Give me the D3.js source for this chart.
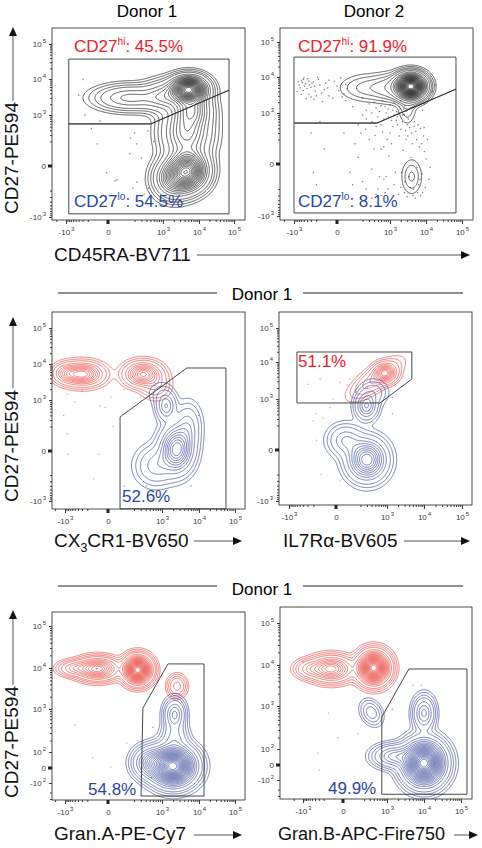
<!DOCTYPE html>
<html><head><meta charset="utf-8">
<script src="https://cdn.jsdelivr.net/npm/d3@7"></script>
<style>
body{margin:0;background:#fff}
svg{display:block}
text{font-family:"Liberation Sans",Arial,Helvetica,sans-serif}
</style>
</head><body>
<svg id="chart" width="482" height="848"></svg>
<script>
// ================= DATA =================
// tick values (fluorescence units, biexponential display)
const xTicks = [-1000, 0, 1000, 10000, 100000];
const yTicksTop = [-1000, 0, 1000, 10000, 100000];
const yTicksLow = [-100, 0, 100, 1000, 10000, 100000];

// populations: centre (x,y) in fluorescence units, spread in decades, relative weight, group
const popsA = [
  {x:5200, y:5200, sx:0.28, sy:0.20, w:1.0},
  {x:5000, y:-30,  sx:0.30, sy:0.30, w:0.75},
  {x:2000, y:-80,  sx:0.30, sy:0.30, w:0.35},
  {x:150,  y:3000, sx:0.55, sy:0.20, w:0.17},
  {x:1200, y:3300, sx:0.35, sy:0.25, w:0.18},
  {x:4500, y:350,  sx:0.38, sy:0.45, w:0.32},
  {x:6500, y:1500, sx:0.30, sy:0.30, w:0.3}
];
const popsB = [
  {x:3800, y:5500, sx:0.22, sy:0.19, w:1.0},
  {x:1200, y:5000, sx:0.30, sy:0.22, w:0.05},
  {x:300,  y:5000, sx:0.45, sy:0.22, w:0.03},
  {x:3000, y:1500, sx:0.15, sy:0.30, w:0.02},
  {x:4000, y:-80,  sx:0.17, sy:0.30, w:0.022},
  {x:4000, y:-80,  sx:0.05, sy:0.08, w:0.008}
];
const popsC = [
  {x:-280, y:5200, sx:0.30, sy:0.17, w:1.0,  g:'r'},
  {x:340,  y:5200, sx:0.27, sy:0.18, w:0.95, g:'r'},
  {x:700,  y:2500, sx:0.22, sy:0.20, w:0.2,  g:'r'},
  {x:-900, y:5500, sx:0.20, sy:0.15, w:0.4,  g:'r'},
  {x:2500, y:10,   sx:0.25, sy:0.35, w:1.0,  g:'b'},
  {x:1300, y:700,  sx:0.15, sy:0.22, w:0.4,  g:'b'},
  {x:700,  y:-100, sx:0.30, sy:0.30, w:0.25, g:'b'},
  {x:5000, y:200,  sx:0.20, sy:0.35, w:0.25, g:'b'},
  {x:900,  y:1500, sx:0.20, sy:0.20, w:0.06, g:'b'}
];
const popsD = [
  {x:900,  y:5000, sx:0.16, sy:0.15, w:1.0,  g:'r'},
  {x:500,  y:3500, sx:0.40, sy:0.17, w:0.4,  g:'r', rot:-35},
  {x:300,  y:-60,  sx:0.28, sy:0.33, w:1.0,  g:'b'},
  {x:290,  y:660,  sx:0.16, sy:0.22, w:0.5,  g:'b'},
  {x:60,   y:60,   sx:0.25, sy:0.25, w:0.3,  g:'b'},
  {x:450,  y:1500, sx:0.20, sy:0.20, w:0.15, g:'b'}
];
const popsE = [
  {x:250,  y:9000, sx:0.20, sy:0.17, w:1.0,  g:'r'},
  {x:-80,  y:9500, sx:0.30, sy:0.14, w:0.45, g:'r'},
  {x:-500, y:9800, sx:0.25, sy:0.10, w:0.15, g:'r'},
  {x:2550, y:3600, sx:0.14, sy:0.14, w:0.12, g:'r'},
  {x:2000, y:10,   sx:0.33, sy:0.25, w:1.0,  g:'b'},
  {x:2200, y:760,  sx:0.16, sy:0.20, w:0.2,  g:'b'},
  {x:500,  y:30,   sx:0.25, sy:0.20, w:0.25, g:'b'},
  {x:2200, y:250,  sx:0.20, sy:0.20, w:0.1,  g:'b'}
];
const popsF = [
  {x:400,   y:8500, sx:0.22, sy:0.20, w:1.0,  g:'r'},
  {x:-100,  y:8000, sx:0.30, sy:0.16, w:0.4,  g:'r'},
  {x:-600,  y:8000, sx:0.22, sy:0.12, w:0.12, g:'r'},
  {x:10000, y:10,   sx:0.30, sy:0.28, w:1.0,  g:'b'},
  {x:10000, y:700,  sx:0.16, sy:0.22, w:0.2,  g:'b'},
  {x:340,   y:720,  sx:0.15, sy:0.18, w:0.07, g:'b', rot:-30},
  {x:1500,  y:50,   sx:0.30, sy:0.15, w:0.2,  g:'b'}
];

// single events shown outside the contours
const dotsA = [[-290,9700],[-400,3600],[-85,170],[-10,-40],[40,-100],[155,250],[200,340],[230,170],[150,80],[430,390],[180,-170],[50,-90],[300,50],[-250,1000],[450,-170],[-60,700],[230,-110],[600,200],[-150,450],[350,-250]];
const dotsB = [
 [-600,8000],[-450,6500],[-520,4200],[-380,9000],[-300,5200],[-250,7400],[-200,3000],[-150,6000],[-100,4500],[-60,8200],[-30,2600],[0,5600],[40,3400],[80,7000],[-350,3300],[-480,5600],[-220,4100],[-120,2100],[20,9500],[-700,6000],[-560,7100],[-420,2500],[-280,6800],[-170,8600],[60,4800],[-800,4000],
 [-650,5000],[-500,9500],[-350,7800],[-230,5600],[-130,3600],[-60,3000],[10,4200],[-400,4800],[-300,2800],[-750,7500],[-600,3300],[-180,9800],[-90,6800],[-20,7600],[50,6200],[-520,8600],[-330,6100],[-240,2400],[-70,5000],[30,2800],
 [100,1500],[250,1200],[400,2000],[600,1600],[900,1300],[1300,1900],[1800,1500],[200,900],[500,800],[800,1000],[1500,1100],[2400,1300],[50,2200],[350,600],[700,700],[1100,650],[150,500],[300,1800],[2000,2200],[1600,800],
 [200,2600],[450,1400],[650,2200],[1000,1700],[1200,1200],[1700,1000],[2200,900],[2600,1600],[350,1000],[550,1100],[750,1500],[2800,1100],[1900,1300],[250,700],[450,450],[1300,900],
 [900,800],[1500,650],[2500,900],[3200,700],[4800,600],[6000,500],[1200,450],[2000,380],[3500,420],[5200,330],[7000,400],[8500,250],[1800,250],[2800,200],[4200,150],[6500,120],[9000,80],[1100,150],[2300,90],[3800,40],[5600,-20],[7800,-60],[10000,30],[1400,-50],[2600,-120],[4500,-200],[6200,-150],[8000,-250],[12000,-100],[900,-200],[1700,-280],[3000,-320],[5000,-350],[7000,-300],[2200,600],[3000,500],[4000,300],[1000,300],[600,500],[700,120],[800,-80],[11000,200],[9500,-180],[13000,-20],[2000,-180],
 [1600,500],[2700,350],[3300,-80],[4300,-300],[5500,200],[6800,-100],[8800,420],[2100,-50],[3600,-180],[7500,150],[950,50],[1300,-150],[2500,-250],[5800,-250],[4700,450],[3100,250],
 [40,300],[120,150],[240,380],[420,260],[600,100],[850,200],[80,-50],[200,-120],[350,-30],[500,-200],[700,-100],[150,40],[300,200],[450,-280],[650,320],[-100,100],[-200,-150],[30,-250],[-300,300],[-150,600],
 [250,-200],[400,100],[550,-80],[750,-250],[100,-150],[-50,-300],[180,300],[600,-300],[350,-350],[-250,-50],
 [15000,4000],[12000,2500],[9000,1800],[18000,6000],[8000,1200]
];
const dotsC = [[-850,1500,'r'],[-60,700,'r'],[-20,650,'r'],[-850,120,'r'],[-800,-20,'r'],[-70,-20,'r'],[-120,-250,'r'],[30,200,'r'],[-1100,400,'r'],[290,1200,'r'],[15,1200,'r'],[-300,1800,'r'],[-500,900,'r'],[100,2000,'r'],[10000,400,'b'],[6000,-400,'b'],[420,-400,'b'],[100,-400,'b']];
const dotsD = [[-120,3500,'r'],[25,2800,'r'],[70,2400,'r'],[90,3500,'r'],[-40,600,'r'],[-170,420,'r'],[-160,60,'r'],[-110,-200,'r'],[25,-300,'r'],[-200,270,'r'],[-90,320,'r'],[-20,1000,'r'],[150,1600,'r'],[300,2000,'r'],[-300,2500,'r'],[1400,420,'b'],[1400,1100,'b']];
const dotsE = [[-500,450,'r'],[-130,60,'r'],[15,5,'r'],[125,175,'r'],[250,200,'r'],[550,-60,'b'],[600,400,'b']];
const dotsF = [[-1000,12000,'r'],[-320,70,'r'],[-40,200,'r'],[-290,-30,'r'],[5000,3200,'r'],[8500,3200,'r'],[-130,700,'r'],[120,250,'r'],[1400,850,'b']];

// gates (fluorescence units)
const gateA = [[[-820,37000],[72000,37000],[72000,4900],[510,590],[-820,590]],[[-820,590],[510,590],[72000,4900],[72000,-830],[-820,-830]]];
const gateB = [[[-1000,37000],[68000,37000],[68000,4600],[475,550],[-1000,550]],[[-1000,550],[475,550],[68000,4600],[68000,-840],[-1000,-840]]];
const gateC = [[[72,363],[72,-1600],[56000,-1600],[56000,7750],[4700,7750]]];
const gateD = [[[-600,19700],[4700,19700],[4700,3470],[660,790],[-600,790]]];
const gateE = [[[340,1050],[305,-250],[13800,-250],[13800,12500],[1450,12500]]];
const gateF = [[[700,580],[700,-270],[145000,-270],[145000,8000],[3900,8000]]];

// texts
const donorLabels = ["Donor 1", "Donor 2"];
const xTitles = ["CD45RA-BV711", "CX3CR1-BV650", "IL7R\u03b1-BV605", "Gran.A-PE-Cy7", "Gran.B-APC-Fire750"];
const yTitle = "CD27-PE594";
const percentLabels = [
  {panel:0, parts:[["CD27"],["hi","sup"],[": 45.5%"]], c:'r', pos:'top'},
  {panel:0, parts:[["CD27"],["lo","sup"],[": 54.5%"]], c:'b', pos:'bot'},
  {panel:1, parts:[["CD27"],["hi","sup"],[": 91.9%"]], c:'r', pos:'top'},
  {panel:1, parts:[["CD27"],["lo","sup"],[": 8.1%"]], c:'b', pos:'bot'},
  {panel:2, parts:[["52.6%"]], c:'b'},
  {panel:3, parts:[["51.1%"]], c:'r'},
  {panel:4, parts:[["54.8%"]], c:'b'},
  {panel:5, parts:[["49.9%"]], c:'b'}
];

// ================= LAYOUT / STYLE =================
const COL = {r:'#e8483f', b:'#3a4b98', k:'#1a1a1a', textR:'#e8202a', textB:'#2a47a0',
             dotK:'#7d7d7d', dotR:'#eea3a3', dotB:'#8d99cf', axis:'#3a3a3a'};
const dense = [0.008, 0.016, 0.03].concat(d3.range(0.05, 0.96, 0.045));
const medium = [0.02, 0.045].concat(d3.range(0.09, 0.96, 0.1));
const levB = [0.006, 0.012, 0.022, 0.035, 0.06].concat(d3.range(0.1, 0.97, 0.04));

const panels = [
  {pops:popsA, dots:dotsA, gates:gateA, mono:true, left:52, top:28, w:193, h:192, xp:[66,108,163,199,234], yv:yTicksTop, yp:[217,166,115,79,44], lev:dense, lab:{top:[74,52], bot:[74,207]}},
  {pops:popsB, dots:dotsB, gates:gateB, mono:true, left:280, top:28, w:193, h:192, xp:[294,337,390,426,462], yv:yTicksTop, yp:[216,164,113,77,42], lev:levB, lab:{top:[298,52], bot:[298,207]}},
  {pops:popsC, dots:dotsC, gates:gateC, left:52, top:312, w:193, h:197, xp:[65,108,162,199,235], yv:yTicksTop, yp:[501,451,400,364,328], lev:medium, lab:[122,502]},
  {pops:popsD, dots:dotsD, gates:gateD, left:279, top:312, w:193, h:193, xp:[289,336,387,424,462], yv:yTicksTop, yp:[501,450,399,362,328], lev:medium, lab:[298,367]},
  {pops:popsE, dots:dotsE, gates:gateE, left:52, top:612, w:193, h:188, xp:[65,108,162,199,235], yv:yTicksLow, yp:[783,768,752,709,668,626], lev:dense, lab:[88,795]},
  {pops:popsF, dots:dotsF, gates:gateF, left:280, top:607, w:192, h:192, xp:[303,343,387,424,461], yv:yTicksLow, yp:[780,765,749,706,665,623], lev:dense, lab:[328,794]}
];

// ================= RENDER =================
const svg = d3.select('#chart');
const T = v => Math.asinh(v / 100);

function makeScale(vals, pix, extent) {
  const idx = d3.range(vals.length).sort((a, b) => vals[a] - vals[b]);
  const lin = d3.scaleLinear().domain(idx.map(i => T(vals[i]))).range(idx.map(i => pix[i]));
  const s = v => lin(T(v));
  s.copy = () => s;
  s.range = () => extent;
  s.domain = () => [vals[idx[0]], vals[idx[idx.length - 1]]];
  s.ppd = Math.abs(s(1e5) - s(1e4));
  return s;
}

function minorValues() {
  const out = [];
  for (const k of [2, 3, 4]) for (let m = 2; m <= 9; m++) out.push(m * Math.pow(10, k));
  for (let m = 2; m <= 9; m++) out.push(-m * 100);
  out.push(-2000);
  return out;
}

function labelAxis(sel) {
  sel.selectAll('.tick text').each(function(d) {
    const t = d3.select(this);
    if (d !== 0) {
      t.append('tspan').attr('dy', -4).attr('font-size', 6).attr('dx', 1)
       .text(Math.round(Math.log10(Math.abs(d))));
    }
  });
}

const defs = svg.append('defs');

panels.forEach((p, pi) => {
  const xs = makeScale(xTicks, p.xp, [p.left, p.left + p.w]);
  const ys = makeScale(p.yv, p.yp, [p.top + p.h, p.top]);
  const bottom = p.top + p.h;
  const g = svg.append('g');

  defs.append('clipPath').attr('id', 'clip' + pi)
    .append('rect').attr('x', p.left).attr('y', p.top).attr('width', p.w).attr('height', p.h);

  const plot = g.append('g').attr('clip-path', `url(#clip${pi})`);

  // dots
  plot.append('g').selectAll('rect').data(p.dots).join('rect')
    .attr('x', d => xs(d[0]) - 0.6).attr('y', d => ys(d[1]) - 0.6)
    .attr('width', 1.3).attr('height', 1.3)
    .attr('fill', d => p.mono ? COL.dotK : (d[2] === 'r' ? COL.dotR : COL.dotB));

  // density contours
  const groups = p.mono ? [null] : ['r', 'b'];
  groups.forEach(grp => {
    const comps = p.pops.filter(c => grp === null || c.g === grp).map(c => {
      const a = (c.rot || 0) * Math.PI / 180;
      return {cx: xs(c.x) - p.left, cy: ys(c.y) - p.top,
              sx: c.sx * xs.ppd, sy: c.sy * ys.ppd, w: c.w,
              ca: Math.cos(a), sa: Math.sin(a)};
    });
    const nx = p.w, ny = p.h;
    const values = new Float64Array(nx * ny);
    for (let j = 0; j < ny; j++) {
      for (let i = 0; i < nx; i++) {
        let v = 0;
        for (const c of comps) {
          const dx = i + 0.5 - c.cx, dy = j + 0.5 - c.cy;
          const u = (dx * c.ca + dy * c.sa) / c.sx;
          const q = (-dx * c.sa + dy * c.ca) / c.sy;
          v += c.w * Math.exp(-0.5 * (u * u + q * q));
        }
        values[i + j * nx] = v;
      }
    }
    const mx = d3.max(values);
    const contours = d3.contours().size([nx, ny]).thresholds(p.lev.map(l => l * mx))(values);
    plot.append('g').attr('transform', `translate(${p.left},${p.top})`)
      .selectAll('path').data(contours).join('path')
      .attr('d', d3.geoPath())
      .attr('fill', 'none')
      .attr('stroke', grp === null ? COL.k : COL[grp])
      .attr('stroke-width', 0.7);
  });

  // gates
  g.append('g').selectAll('path').data(p.gates).join('path')
    .attr('d', d => d3.line()(d.map(v => [xs(v[0]), ys(v[1])])) + 'Z')
    .attr('fill', 'none').attr('stroke', '#333').attr('stroke-width', 0.9);

  // frame
  g.append('rect').attr('x', p.left).attr('y', p.top).attr('width', p.w).attr('height', p.h)
    .attr('fill', 'none').attr('stroke', COL.axis).attr('stroke-width', 0.9);

  // axes
  const minors = minorValues();
  const minX = minors.filter(v => xs(v) > p.left && xs(v) < p.left + p.w);
  const minY = minors.filter(v => ys(v) > p.top && ys(v) < bottom);
  const fmt = d => d === 0 ? '0' : (d < 0 ? '-10' : '10');

  const styleAxis = a => a.attr('font-size', 8).attr('font-family', '"Liberation Sans",Arial,sans-serif')
      .style('color', COL.axis).call(s => s.select('.domain').remove());

  g.append('g').attr('transform', `translate(0,${bottom})`)
    .call(d3.axisBottom(xs).tickValues(minX).tickSize(2).tickFormat('')).call(styleAxis);
  g.append('g').attr('transform', `translate(0,${bottom})`)
    .call(d3.axisBottom(xs).tickValues(xTicks).tickSize(4).tickPadding(5).tickFormat(fmt))
    .call(styleAxis).call(labelAxis);
  g.append('g').attr('transform', `translate(${p.left},0)`)
    .call(d3.axisLeft(ys).tickValues(minY).tickSize(2).tickFormat('')).call(styleAxis);
  g.append('g').attr('transform', `translate(${p.left},0)`)
    .call(d3.axisLeft(ys).tickValues(p.yv).tickSize(3).tickPadding(3).tickFormat(fmt))
    .call(styleAxis).call(labelAxis);

  // zero markers
  g.append('rect').attr('x', xs(0) - 1.5).attr('y', bottom).attr('width', 3).attr('height', 4).attr('fill', '#222');
  g.append('rect').attr('x', p.left - 4).attr('y', ys(0) - 1.5).attr('width', 4).attr('height', 3).attr('fill', '#222');
});

// ---- texts ----
function richText(x, y, parts, color, size) {
  const t = svg.append('text').attr('x', x).attr('y', y).attr('fill', color).attr('font-size', size);
  let shift = 0;
  parts.forEach(pt => {
    const ts = t.append('tspan').text(pt[0]);
    if (pt[1] === 'sup') { ts.attr('font-size', size * 0.6).attr('dy', -7 - shift); shift = -7; }
    else if (pt[1] === 'sub') { ts.attr('font-size', size * 0.65).attr('dy', 5 - shift); shift = 5; }
    else { if (shift) ts.attr('dy', -shift); shift = 0; }
  });
  return t;
}

percentLabels.forEach(l => {
  const p = panels[l.panel];
  const pos = l.pos ? p.lab[l.pos] : p.lab;
  richText(pos[0], pos[1], l.parts, l.c === 'r' ? COL.textR : COL.textB, 17);
});

// donor headers
svg.append('text').attr('x', 147).attr('y', 17).attr('text-anchor', 'middle').attr('font-size', 17).text(donorLabels[0]);
svg.append('text').attr('x', 374).attr('y', 17).attr('text-anchor', 'middle').attr('font-size', 17).text(donorLabels[1]);
[[300, 293], [595, 586]].forEach(([y, ly]) => {
  svg.append('text').attr('x', 262).attr('y', y).attr('text-anchor', 'middle').attr('font-size', 17).text(donorLabels[0]);
  svg.append('line').attr('x1', 58).attr('x2', 217).attr('y1', ly).attr('y2', ly).attr('stroke', '#222').attr('stroke-width', 1);
  svg.append('line').attr('x1', 303).attr('x2', 463).attr('y1', ly).attr('y2', ly).attr('stroke', '#222').attr('stroke-width', 1);
});

// arrows
function arrowH(x1, x2, y) {
  svg.append('line').attr('x1', x1).attr('x2', x2 - 7).attr('y1', y).attr('y2', y).attr('stroke', '#555').attr('stroke-width', 1);
  svg.append('path').attr('d', `M${x2},${y}L${x2 - 9},${y - 4}L${x2 - 9},${y + 4}Z`).attr('fill', '#111');
}
function arrowV(x, y1, y2) {
  svg.append('line').attr('x1', x).attr('x2', x).attr('y1', y1).attr('y2', y2 + 7).attr('stroke', '#555').attr('stroke-width', 1);
  svg.append('path').attr('d', `M${x},${y2}L${x - 4},${y2 + 9}L${x + 4},${y2 + 9}Z`).attr('fill', '#111');
}

// x titles
richText(54, 261, [[xTitles[0]]], '#111', 19);
arrowH(197, 470, 255);
richText(54, 547, [["CX"], ["3", "sub"], ["CR1-BV650"]], '#111', 19);
arrowH(194, 242, 541);
richText(283, 547, [[xTitles[2]]], '#111', 19);
arrowH(404, 470, 541);
richText(54, 840, [[xTitles[3]]], '#111', 19);
arrowH(194, 242, 835);
richText(278, 840, [[xTitles[4]]], '#111', 18);
arrowH(454, 478, 835);

// y titles
[[158, 101, 27], [446, 388, 317], [742, 685, 610]].forEach(([cy, y1, tip]) => {
  svg.append('text').attr('transform', `translate(18,${cy}) rotate(-90)`).attr('text-anchor', 'middle')
    .attr('font-size', 19).attr('fill', '#111').text(yTitle);
  arrowV(13, y1, tip);
});
</script>
</body></html>
